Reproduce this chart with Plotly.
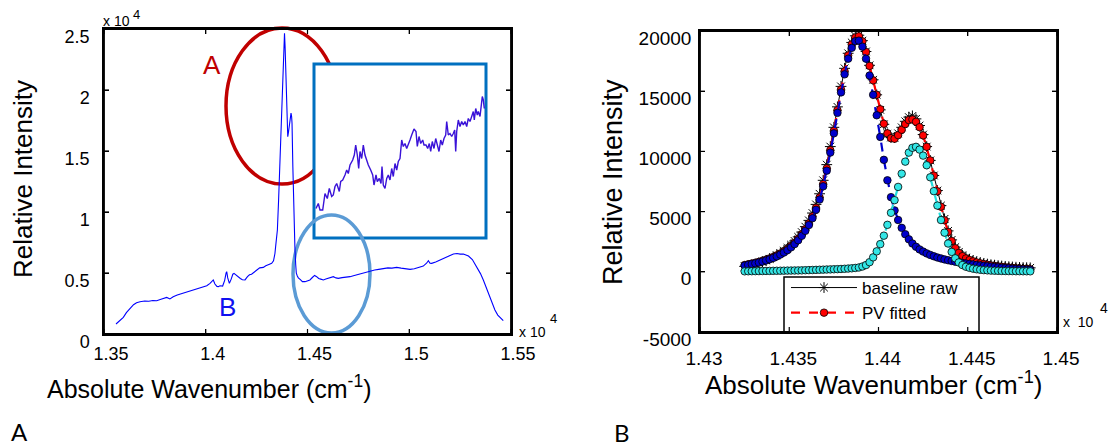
import plotly.graph_objects as go

W, H = 1112, 448
FONT = "Liberation Sans, Arial, Helvetica, sans-serif"

# ---------------- Panel A: full spectrum ----------------
specA_wn = [13559, 13575, 13595, 13610, 13628, 13645, 13660, 13677, 13700, 13720,
            13740, 13759, 13780, 13795, 13808, 13824, 13840, 13860, 13880, 13906,
            13925, 13945, 13965, 13988, 14005, 14021, 14030, 14037, 14045, 14055,
            14062, 14070, 14083, 14093, 14100, 14103, 14108, 14116, 14125, 14133,
            14139, 14147, 14160, 14170, 14180, 14193, 14205, 14215, 14225, 14234,
            14245, 14255, 14265, 14283, 14295, 14310, 14324, 14333, 14340, 14345,
            14352, 14358, 14364, 14370, 14376, 14381, 14385, 14387, 14390, 14393,
            14396, 14400, 14403, 14407, 14410, 14415, 14419, 14422, 14424, 14428,
            14433, 14438, 14442, 14445, 14450, 14455, 14465, 14475, 14488, 14500,
            14512, 14525, 14535, 14545, 14555, 14565, 14578, 14590, 14600, 14615,
            14627, 14640, 14651, 14670, 14690, 14709, 14730, 14750, 14770, 14791,
            14810, 14830, 14850, 14873, 14895, 14915, 14938, 14960, 14980, 15004,
            15025, 15045, 15069, 15085, 15094, 15102, 15110, 15130, 15150, 15167,
            15190, 15205, 15217, 15235, 15250, 15266, 15280, 15291, 15310, 15332,
            15350, 15364, 15380, 15397, 15410, 15421, 15435, 15445, 15454, 15462]
specA_int = [820, 1080, 1370, 1750, 2100, 2400, 2560, 2650, 2700, 2680,
             2740, 2730, 2850, 2950, 3000, 2870, 3050, 3200, 3300, 3470,
             3550, 3650, 3720, 3830, 3950, 4150, 4300, 4430, 4100, 3900,
             3880, 3950, 3930, 4400, 5000, 5110, 4600, 4150, 4500, 4900,
             4970, 4850, 4700, 4550, 4450, 4430, 4700, 4850, 4900, 5030,
             5200, 5300, 5420, 5460, 5600, 5700, 5790, 6000, 6600, 7430,
             8520, 10980, 13600, 16470, 19000, 21900, 24000, 24650, 23500, 22000,
             20550, 18000, 16170, 16600, 17000, 17900, 18100, 17800, 17270, 13710,
             9620, 7160, 5700, 4980, 4750, 4600, 4450, 4290, 4290, 4350,
             4430, 4650, 4800, 4700, 4550, 4500, 4430, 4500, 4550, 4620,
             4700, 4600, 4560, 4620, 4650, 4700, 4800, 4900, 5000, 5110,
             5200, 5250, 5300, 5380, 5420, 5400, 5460, 5400, 5350, 5300,
             5350, 5450, 5570, 5800, 6010, 5800, 5790, 5900, 6050, 6200,
             6380, 6480, 6560, 6600, 6550, 6560, 6500, 6390, 6100, 5520,
             4950, 4430, 3750, 3060, 2450, 1970, 1550, 1350, 1200, 1090]

# zoomed inset (region B, enlarged)
inset_wn = [14502.0, 14504.3, 14506.0, 14508.7, 14511.0, 14513.3, 14515.3, 14517.7, 14519.3, 14521.0,
            14522.7, 14525.3, 14526.7, 14528.7, 14531.0, 14532.7, 14534.3, 14536.0, 14538.7, 14540.3,
            14541.7, 14543.3, 14544.7, 14546.0, 14547.7, 14549.3, 14551.0, 14552.7, 14554.3, 14556.7,
            14558.7, 14560.0, 14562.0, 14563.3, 14565.3, 14567.0, 14568.0, 14569.3, 14571.0, 14572.7,
            14574.3, 14576.0, 14577.7, 14579.3, 14581.0, 14582.7, 14584.3, 14586.0, 14587.7, 14589.3,
            14591.0, 14592.7, 14594.3, 14596.0, 14597.7, 14600.0, 14602.0, 14603.3, 14605.0, 14606.7,
            14608.7, 14610.0, 14612.0, 14613.7, 14615.3, 14616.7, 14618.3, 14620.0, 14621.7, 14623.3,
            14625.0, 14626.7, 14628.3, 14630.0, 14631.7, 14632.7, 14634.3, 14636.0, 14637.7, 14639.3,
            14640.7, 14641.7, 14642.7, 14644.3, 14646.0, 14647.7, 14649.3, 14651.0, 14652.7, 14654.3,
            14656.0, 14657.7, 14659.3, 14660.3, 14661.7, 14663.3, 14664.3, 14666.0, 14667.0, 14668.3,
            14669.3, 14670.3]
inset_int = [4759, 4769, 4756, 4756, 4789, 4779, 4799, 4783, 4786, 4803,
             4809, 4793, 4813, 4816, 4826, 4836, 4829, 4846, 4856, 4866,
             4886, 4866, 4839, 4873, 4859, 4886, 4866, 4853, 4846, 4836,
             4826, 4806, 4826, 4813, 4819, 4809, 4843, 4806, 4799, 4819,
             4826, 4816, 4839, 4823, 4849, 4836, 4853, 4859, 4896, 4883,
             4889, 4879, 4886, 4896, 4906, 4918, 4913, 4883, 4903, 4889,
             4896, 4886, 4886, 4879, 4889, 4873, 4893, 4879, 4899, 4883,
             4873, 4896, 4886, 4899, 4906, 4933, 4906, 4909, 4903, 4909,
             4916, 4873, 4913, 4936, 4923, 4933, 4926, 4933, 4923, 4939,
             4933, 4943, 4953, 4936, 4959, 4946, 4953, 4943, 4959, 4983,
             4976, 4959]

# ---------------- Panel B: peak fit ----------------
fit_wn = [14325, 14327, 14329, 14331, 14333, 14335, 14337, 14339, 14341, 14343,
          14345, 14347, 14349, 14351, 14353, 14355, 14357, 14359, 14361, 14363,
          14365, 14367, 14369, 14371, 14373, 14375, 14377, 14379, 14381, 14383,
          14385, 14387, 14389, 14391, 14393, 14395, 14397, 14399, 14401, 14403,
          14405, 14407, 14409, 14411, 14413, 14415, 14417, 14419, 14421, 14423,
          14425, 14427, 14429, 14431, 14433, 14435, 14437, 14439, 14441, 14443,
          14445, 14447, 14449, 14451, 14453, 14455, 14457, 14459, 14461, 14463,
          14465, 14467, 14469, 14471, 14473, 14475, 14477, 14479, 14481, 14483,
          14485]
raw_int = [450, 500, 560, 640, 720, 830, 950, 1080, 1210, 1380,
           1560, 1760, 1990, 2250, 2560, 2900, 3300, 3750, 4270, 4880,
           5600, 6480, 7600, 8900, 10400, 12000, 13700, 15400, 16900, 18150,
           19050, 19600, 19650, 19200, 18300, 17150, 15950, 14700, 13450, 12250,
           11450, 11150, 11150, 11500, 12000, 12500, 12850, 12950, 12700, 12150,
           11400, 10400, 9250, 8000, 6750, 5500, 4400, 3400, 2650, 2050,
           1650, 1380, 1180, 1040, 930, 840, 760, 700, 640, 590,
           550, 510, 480, 450, 420, 400, 380, 360, 350, 340,
           330]
fit_int = [560, 625, 690, 755, 830, 915, 1010, 1115, 1230, 1365,
           1520, 1695, 1900, 2135, 2410, 2735, 3110, 3530, 4020, 4600,
           5310, 6170, 7280, 8590, 10100, 11710, 13420, 15135, 16650, 17970,
           18890, 19470, 19560, 19140, 18260, 17100, 15900, 14700, 13500, 12300,
           11500, 11100, 11050, 11350, 11800, 12270, 12600, 12650, 12460, 12010,
           11330, 10380, 9250, 7990, 6690, 5410, 4280, 3310, 2550, 1960,
           1570, 1300, 1110, 980, 870, 780, 700, 640, 580, 530,
           490, 450, 410, 375, 350, 315, 290, 270, 245, 225,
           210]
comp1_int = [520, 580, 640, 700, 770, 850, 940, 1040, 1150, 1280,
             1430, 1600, 1800, 2030, 2300, 2620, 2990, 3400, 3880, 4450,
             5150, 6000, 7100, 8400, 9900, 11500, 13200, 14900, 16400, 17700,
             18600, 19150, 19200, 18700, 17700, 16300, 14700, 13000, 11200, 9300,
             7600, 6200, 5100, 4300, 3650, 3120, 2700, 2350, 2080, 1860,
             1680, 1530, 1400, 1290, 1190, 1110, 1030, 960, 900, 840,
             790, 740, 690, 650, 610, 570, 530, 500, 460, 430,
             400, 370, 340, 310, 290, 260, 240, 220, 200, 180,
             170]
comp2_int = [40, 45, 50, 55, 60, 65, 70, 75, 80, 85,
             90, 95, 100, 105, 110, 115, 120, 130, 140, 150,
             160, 170, 180, 190, 200, 210, 220, 235, 250, 270,
             290, 320, 360, 440, 560, 800, 1200, 1700, 2300, 3000,
             3900, 4900, 5950, 7050, 8150, 9150, 9900, 10300, 10380, 10150,
             9650, 8850, 7850, 6700, 5500, 4300, 3250, 2350, 1650, 1120,
             780, 560, 420, 330, 260, 210, 170, 140, 120, 100,
             90, 80, 70, 65, 60, 55, 50, 50, 45, 45,
             40]

# ---------------- ticks ----------------
xA_tickvals = [13500, 14000, 14500, 15000, 15500]
xA_ticktext = ["1.35", "1.4", "1.45", "1.5", "1.55"]
yA_tickvals = [0, 5000, 10000, 15000, 20000, 25000]
yA_ticktext = ["0", "0.5", "1", "1.5", "2", "2.5"]
xB_tickvals = [14300, 14350, 14400, 14450, 14500]
xB_ticktext = ["1.43", "1.435", "1.44", "1.445", "1.45"]
yB_tickvals = [-5000, 0, 5000, 10000, 15000, 20000]
yB_ticktext = ["-5000", "0", "5000", "10000", "15000", "20000"]

XA_RANGE = [13500, 15500]
YA_RANGE = [0, 25000]
XB_RANGE = [14300, 14500]
YB_RANGE = [-5000, 20000]


def PX(x):
    return x / W


def PY(y):
    return 1 - y / H


# panel pixel boxes (left, top, right, bottom)
BOX_A = (104, 29, 511, 334)
BOX_B = (700, 31, 1057, 332)
TICKLEN = 5

fig = go.Figure()

# Panel A
fig.add_trace(go.Scatter(x=specA_wn, y=specA_int, mode="lines",
                         line=dict(color="#0000FF", width=1.1),
                         xaxis="x", yaxis="y", showlegend=False))
fig.add_trace(go.Scatter(x=inset_wn, y=inset_int, mode="lines",
                         line=dict(color="#3A12D8", width=1.4),
                         xaxis="x3", yaxis="y3", showlegend=False))

# Panel B
fig.add_trace(go.Scatter(x=fit_wn, y=raw_int, mode="lines+markers", name="baseline raw",
                         line=dict(color="black", width=1),
                         marker=dict(symbol="asterisk-open", size=9, color="black",
                                     line=dict(color="black", width=1)),
                         xaxis="x2", yaxis="y2"))
fig.add_trace(go.Scatter(x=fit_wn, y=fit_int, mode="lines+markers", name="PV fitted",
                         line=dict(color="#FF0000", width=2.2, dash="dash"),
                         marker=dict(symbol="circle", size=7.5, color="#FF0000",
                                     line=dict(color="black", width=0.8)),
                         xaxis="x2", yaxis="y2"))
fig.add_trace(go.Scatter(x=fit_wn, y=comp1_int, mode="lines+markers", name="peak 1",
                         line=dict(color="#0000CC", width=2.2, dash="dash"),
                         marker=dict(symbol="circle", size=7.5, color="#0000CC",
                                     line=dict(color="black", width=0.8)),
                         xaxis="x2", yaxis="y2", showlegend=False))
fig.add_trace(go.Scatter(x=fit_wn, y=comp2_int, mode="lines+markers", name="peak 2",
                         line=dict(color="#22DDDD", width=2.2, dash="dash"),
                         marker=dict(symbol="circle", size=7.5, color="#33E6E6",
                                     line=dict(color="black", width=0.8)),
                         xaxis="x2", yaxis="y2", showlegend=False))

axis_common = dict(showline=True, linecolor="black", linewidth=1.5, mirror="ticks",
                   ticks="inside", ticklen=TICKLEN, tickwidth=1, tickcolor="black",
                   showgrid=False, zeroline=False, automargin=False)
inset_axis = dict(showline=False, showticklabels=False, ticks="", showgrid=False,
                  zeroline=False, automargin=False)

fig.update_layout(
    template="none",
    width=W, height=H, margin=dict(l=0, r=0, t=0, b=0, autoexpand=False),
    paper_bgcolor="white", plot_bgcolor="rgba(0,0,0,0)",
    font=dict(family=FONT, color="black"),
    xaxis=dict(domain=[PX(BOX_A[0]), PX(BOX_A[2])], range=XA_RANGE, anchor="y",
               tickvals=xA_tickvals, ticktext=xA_ticktext,
               tickfont=dict(size=18), ticklabelshift=7, ticklabelstandoff=3, **axis_common),
    yaxis=dict(domain=[PY(BOX_A[3]), PY(BOX_A[1])], range=YA_RANGE, anchor="x",
               tickvals=yA_tickvals, ticktext=yA_ticktext,
               tickfont=dict(size=18), ticklabelshift=8, ticklabelstandoff=9, **axis_common),
    xaxis2=dict(domain=[PX(BOX_B[0]), PX(BOX_B[2])], range=XB_RANGE, anchor="y2",
                tickvals=xB_tickvals, ticktext=xB_ticktext,
                tickfont=dict(size=19), ticklabelshift=4, ticklabelstandoff=8, **axis_common),
    yaxis2=dict(domain=[PY(BOX_B[3]), PY(BOX_B[1])], range=YB_RANGE, anchor="x2",
                tickvals=yB_tickvals, ticktext=yB_ticktext,
                tickfont=dict(size=19), ticklabelshift=7, ticklabelstandoff=3, **axis_common),
    xaxis3=dict(domain=[PX(314), PX(486)], range=[14500, 14672], anchor="y3", **inset_axis),
    yaxis3=dict(domain=[PY(238), PY(64)], range=[4700, 5048], anchor="x3", **inset_axis),
    showlegend=True,
    legend=dict(x=PX(786), y=PY(270), xanchor="left", yanchor="top",
                bgcolor="rgba(0,0,0,0)", borderwidth=0,
                font=dict(family=FONT, size=17, color="black"),
                itemwidth=66, tracegroupgap=0),
)


def frame_and_ticks(box, xrange_, yrange_, xticks, yticks, layer):
    """MATLAB-style box with inward ticks on all four sides (paper coordinates)."""
    left, top, right, bottom = box
    out = []
    tick_line = dict(color="black", width=1.2)
    for v in xticks:
        px = left + (v - xrange_[0]) / (xrange_[1] - xrange_[0]) * (right - left)
        out.append(dict(type="line", layer=layer, xref="paper", yref="paper",
                        x0=PX(px), x1=PX(px), y0=PY(bottom), y1=PY(bottom - TICKLEN), line=tick_line))
        out.append(dict(type="line", layer=layer, xref="paper", yref="paper",
                        x0=PX(px), x1=PX(px), y0=PY(top), y1=PY(top + TICKLEN), line=tick_line))
    for v in yticks:
        py = bottom - (v - yrange_[0]) / (yrange_[1] - yrange_[0]) * (bottom - top)
        out.append(dict(type="line", layer=layer, xref="paper", yref="paper",
                        x0=PX(left), x1=PX(left + TICKLEN), y0=PY(py), y1=PY(py), line=tick_line))
        out.append(dict(type="line", layer=layer, xref="paper", yref="paper",
                        x0=PX(right - TICKLEN), x1=PX(right), y0=PY(py), y1=PY(py), line=tick_line))
    out.append(dict(type="rect", layer=layer, xref="paper", yref="paper",
                    x0=PX(left), x1=PX(right), y0=PY(bottom), y1=PY(top),
                    line=dict(color="black", width=1.8)))
    return out


shapes = [
    # red ellipse around peak A
    dict(type="circle", xref="paper", yref="paper", layer="below",
         x0=PX(226), x1=PX(338), y0=PY(184), y1=PY(28),
         line=dict(color="#C00000", width=3.5)),
    # inset box (white filled)
    dict(type="rect", xref="paper", yref="paper", layer="below",
         x0=PX(314), x1=PX(486), y0=PY(238), y1=PY(64),
         fillcolor="white", line=dict(color="#0070C0", width=3)),
    # light-blue ellipse around region B
    dict(type="circle", xref="paper", yref="paper", layer="below",
         x0=PX(293), x1=PX(370), y0=PY(333), y1=PY(215),
         line=dict(color="#5B9BD5", width=3.5)),
]
# left panel frame in the lower shape layer (same layer as the visible ellipses)
shapes += frame_and_ticks(BOX_A, XA_RANGE, YA_RANGE, xA_tickvals, yA_tickvals, "below")
shapes += [
    # legend box of panel B
    dict(type="rect", xref="paper", yref="paper", layer="above",
         x0=PX(784), x1=PX(979), y0=PY(333), y1=PY(277),
         fillcolor="white", line=dict(color="black", width=1.5)),
]
shapes += frame_and_ticks(BOX_B, XB_RANGE, YB_RANGE, xB_tickvals, yB_tickvals, "above")
fig.update_layout(shapes=shapes)


def ann(text, x, y, size, color="black", family=FONT, xanchor="center", yanchor="middle", angle=0):
    return dict(text=text, x=PX(x), y=PY(y), xref="paper", yref="paper",
                xanchor=xanchor, yanchor=yanchor, showarrow=False, textangle=angle,
                font=dict(size=size, color=color, family=family))


annotations = [
    ann("A", 212, 65, 26, color="#C00000"),
    ann("B", 227, 307, 26, color="#1010F0"),
    ann("x 10", 101, 21, 14, xanchor="left"),
    ann("4", 131, 14, 13, xanchor="left"),
    ann("x 10", 517, 332, 14, xanchor="left"),
    ann("4", 548, 318, 13, xanchor="left"),
    ann("x  10", 1061, 322, 14, xanchor="left"),
    ann("4", 1098, 308, 14, xanchor="left"),
    ann("Relative Intensity", 23, 179, 26, angle=-90),
    ann("Absolute Wavenumber (cm<sup>-1</sup>)", 209, 387, 25),
    ann("Relative Intensity", 613, 182, 27, angle=-90),
    ann("Absolute Wavenumber (cm<sup>-1</sup>)", 873, 383, 26),
    ann("A", 19, 431, 24, family="Lato, Open Sans, sans-serif"),
    ann("B", 622, 432, 24, family="Lato, Open Sans, sans-serif"),
]
fig.update_layout(annotations=annotations)

fig.write_html("out.html")
